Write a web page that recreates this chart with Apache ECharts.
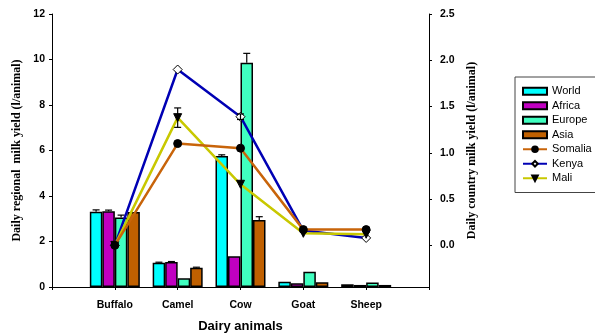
<!DOCTYPE html>
<html>
<head>
<meta charset="utf-8">
<script src="https://cdn.jsdelivr.net/npm/echarts@6/dist/echarts.min.js"></script>
<style>
  html, body { margin: 0; padding: 0; background: #fff; }
  #chart { width: 595px; height: 334px; }
</style>
</head>
<body>
<div id="chart"></div>
<script>
// Milk yield per animal by species: regional averages (bars) and country yields (lines)
var categories = ['Buffalo', 'Camel', 'Cow', 'Goat', 'Sheep'];

// Regional daily yield (l/animal), left axis
var world  = [3.31, 1.07, 5.76, 0.23, 0.12];
var africa = [3.33, 1.10, 1.35, 0.16, 0.09];
var europe = [3.06, 0.38, 9.86, 0.67, 0.20];
var asia   = [3.30, 0.85, 2.94, 0.21, 0.09];

var worldErr  = [0.08, 0.02, 0.05, 0, 0];
var africaErr = [0.05, 0.02, 0, 0, 0];
var europeErr = [0.10, 0, 0.41, 0, 0];
var asiaErr   = [0, 0.02, 0.15, 0, 0];

// Country daily yield (l/animal), right axis
var somalia = [0.0, 1.10, 1.05, 0.17, 0.17];
var kenya   = [0.0, 1.90, 1.39, 0.16, 0.08];
var mali    = [0.0, 1.38, 0.66, 0.13, 0.12];

var kenyaErr = [0, 0, 0.03, 0, 0];
var maliErr  = [0, 0.105, 0, 0, 0];

var leftTicks  = [0, 2, 4, 6, 8, 10, 12];
var rightTicks = [0, 0.5, 1.0, 1.5, 2.0, 2.5];

// Empty slots either side so species sit one step in from each y axis
var xCats = [''].concat(categories).concat([' ']);

var BAR_W = 12.5;
var regions = [
  { name: 'World',  values: world,  err: worldErr,  color: '#00ffff' },
  { name: 'Africa', values: africa, err: africaErr, color: '#c000c0' },
  { name: 'Europe', values: europe, err: europeErr, color: '#40ffc0' },
  { name: 'Asia',   values: asia,   err: asiaErr,   color: '#c06000' }
];
// z decides which marker ends up on top where lines meet
var countries = [
  { name: 'Somalia', values: somalia, err: null,     color: '#c8640a', symbol: 'circle',   fill: '#000', size: 8, rotate: 0,   z: 9 },
  { name: 'Kenya',   values: kenya,   err: kenyaErr, color: '#0000b4', symbol: 'diamond',  fill: '#fff', size: 9, rotate: 0,   z: 5 },
  { name: 'Mali',    values: mali,    err: maliErr,  color: '#c8c800', symbol: 'triangle', fill: '#000', size: 8, rotate: 180, z: 7 }
];

function pairs(vals) {
  return categories.map(function (c, i) { return [c, vals[i]]; });
}
function errTriples(vals, errs) {
  return categories.map(function (c, i) { return [c, vals[i], errs[i]]; });
}

function errorRenderer(offset, both) {
  return function (params, api) {
    var e = api.value(2);
    if (!e) return null;
    var x = api.value(0), v = api.value(1);
    var top = api.coord([x, v + e]);
    var bot = both ? api.coord([x, v - e]) : api.coord([x, v]);
    var cx = top[0] + offset, half = 3.5;
    var style = { stroke: '#000', lineWidth: 1.2 };
    var children = [
      { type: 'line', shape: { x1: cx, y1: top[1], x2: cx, y2: bot[1] }, style: style },
      { type: 'line', shape: { x1: cx - half, y1: top[1], x2: cx + half, y2: top[1] }, style: style }
    ];
    if (both) {
      children.push({ type: 'line', shape: { x1: cx - half, y1: bot[1], x2: cx + half, y2: bot[1] }, style: style });
    }
    return { type: 'group', children: children };
  };
}

var series = [];
regions.forEach(function (r) {
  series.push({
    name: r.name, type: 'bar', xAxisIndex: 0, yAxisIndex: 0,
    barWidth: BAR_W, barGap: '0%',
    data: pairs(r.values),
    itemStyle: { color: r.color, borderColor: '#000', borderWidth: 1.5 },
    z: 2
  });
});
regions.forEach(function (r, k) {
  var offset = (k - 1.5) * BAR_W;
  series.push({
    type: 'custom', xAxisIndex: 0, yAxisIndex: 0,
    renderItem: errorRenderer(offset, false),
    data: errTriples(r.values, r.err),
    encode: { x: 0, y: 1 },
    silent: true, z: 3
  });
});
countries.forEach(function (c) {
  series.push({
    name: c.name, type: 'line', xAxisIndex: 0, yAxisIndex: 1,
    data: pairs(c.values),
    symbol: c.symbol, symbolSize: c.size, symbolRotate: c.rotate,
    showAllSymbol: true,
    lineStyle: { color: c.color, width: 2.5 },
    itemStyle: { color: c.fill, borderColor: '#000', borderWidth: 1 },
    z: c.z
  });
  if (c.err) {
    series.push({
      type: 'custom', xAxisIndex: 0, yAxisIndex: 1,
      renderItem: errorRenderer(0, true),
      data: errTriples(c.values, c.err),
      encode: { x: 0, y: 1 },
      silent: true, z: c.z + 1
    });
  }
});

var tickFont = { fontFamily: 'Arial, "Liberation Sans", sans-serif', fontWeight: 'bold', fontSize: 10.5, color: '#000' };
var titleFont = { fontFamily: '"Times New Roman", "Liberation Serif", serif', fontWeight: 'bold', fontSize: 12, color: '#000' };

var chart = echarts.init(document.getElementById('chart'), null, { renderer: 'canvas' });
chart.setOption({
  animation: false,
  backgroundColor: '#fff',
  grid: { left: 52, right: 166, top: 14, bottom: 47, containLabel: false, outerBoundsMode: 'none' },
  legend: {
    orient: 'vertical', left: 515, top: 77,
    padding: [7, 24, 7, 7],
    itemWidth: 24, itemHeight: 7, itemGap: 0,
    borderColor: '#444', borderWidth: 1, backgroundColor: '#fff',
    textStyle: { fontFamily: 'Arial, "Liberation Sans", sans-serif', fontSize: 11, color: '#000', lineHeight: 14.5 },
    data: [
      { name: 'World', icon: 'rect' },
      { name: 'Africa', icon: 'rect' },
      { name: 'Europe', icon: 'rect' },
      { name: 'Asia', icon: 'rect' },
      'Somalia', 'Kenya', 'Mali'
    ]
  },
  xAxis: {
    type: 'category', data: xCats, boundaryGap: false,
    name: 'Dairy animals', nameLocation: 'middle', nameGap: 33,
    nameTextStyle: { fontFamily: 'Arial, "Liberation Sans", sans-serif', fontWeight: 'bold', fontSize: 13, color: '#000' },
    axisLine: { lineStyle: { color: '#000', width: 1 } },
    axisTick: { length: 3, lineStyle: { color: '#000' } },
    axisLabel: Object.assign({ margin: 13, interval: 0 }, tickFont),
    splitLine: { show: false }
  },
  yAxis: [
    {
      type: 'value', min: 0, max: 12, interval: 2, position: 'left',
      name: 'Daily regional  milk yield (l/animal)', nameLocation: 'middle', nameGap: 29,
      nameTextStyle: titleFont,
      axisLine: { show: true, lineStyle: { color: '#000', width: 1 } },
      axisTick: { show: true, length: 3, lineStyle: { color: '#000' } },
      axisLabel: Object.assign({ margin: 7, customValues: leftTicks }, tickFont),
      splitLine: { show: false }
    },
    {
      type: 'value', min: -0.45, max: 2.5, position: 'right',
      name: 'Daily country milk yield (l/animal)', nameLocation: 'middle', nameGap: 35,
      nameTextStyle: titleFont,
      axisLine: { show: true, lineStyle: { color: '#000', width: 1 } },
      axisTick: { show: true, length: 3, lineStyle: { color: '#000' }, customValues: rightTicks },
      axisLabel: Object.assign({
        margin: 11, customValues: rightTicks,
        formatter: function (v) { return v.toFixed(1); }
      }, tickFont),
      splitLine: { show: false }
    }
  ],
  series: series
});
</script>
</body>
</html>
